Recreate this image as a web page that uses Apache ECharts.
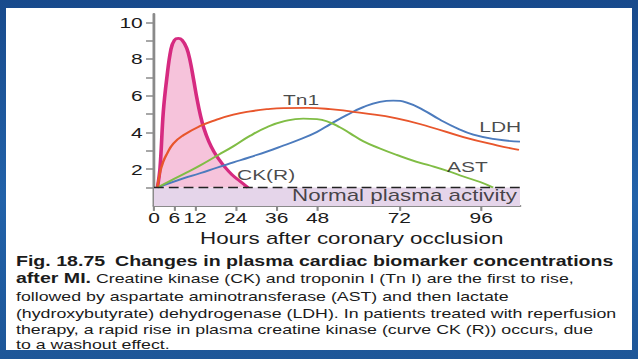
<!DOCTYPE html>
<html>
<head>
<meta charset="utf-8">
<script src="https://cdn.jsdelivr.net/npm/echarts@6/dist/echarts.min.js"></script>
<style>
html,body{margin:0;padding:0;width:638px;height:359px;overflow:hidden;}
body{background:linear-gradient(180deg,#184a8c 0%,#2262a9 55%,#1d5698 100%);position:relative;}
#frame{position:absolute;left:6px;top:8px;width:626px;height:342px;background:#ffffff;overflow:hidden;}
#chart{position:absolute;left:-6px;top:-8px;width:456px;height:359px;transform:scaleX(1.39912);transform-origin:0 0;}
</style>
</head>
<body>
<div id="frame"><div id="chart"></div></div>
<script>
// Hours after occlusion (x) and plasma activity (y, multiples of normal)
const xTickHours = [0, 6, 12, 24, 36, 48, 72, 96];
const yTickValues = [1, 2, 3, 4, 5, 6, 7, 8, 9, 10];
const yLabelValues = [2, 4, 6, 8, 10];

const ckR = [[1,1],[1.76,2.05],[2.73,5.12],[3.73,6.92],[4.99,8.55],[6.02,9.04],[7.13,9.13],[8.22,9.04],[9.6,8.6],[10.6,7.9],[11.6,6.9],[12.6,5.85],[13.6,4.95],[14.6,4.25],[16.1,3.5],[17.6,2.95],[19.0,2.55],[20.8,2.12],[22.9,1.7],[25.2,1.35],[27.6,1.0]];
const tn1 = [[1,1],[1.8,1.85],[2.7,2.4],[3.7,2.8],[5.7,3.4],[8.6,3.85],[13.5,4.35],[18.4,4.7],[23.3,4.97],[28.2,5.15],[33.1,5.27],[38.0,5.33],[45.0,5.34],[51.7,5.27],[61.4,5.05],[71.2,4.77],[81.0,4.3],[90.8,3.75],[100.6,3.3],[107.1,3.05]];
const ast = [[1,1],[4.7,1.36],[9.6,1.82],[13.5,2.2],[18.9,2.78],[23.3,3.25],[28.2,3.82],[33.1,4.28],[38.0,4.6],[43.8,4.76],[47.8,4.73],[51.7,4.54],[54.6,4.28],[57.5,3.96],[61.4,3.52],[66.3,3.13],[71.2,2.78],[77.1,2.4],[81.0,2.2],[86.9,1.86],[90.8,1.6],[95.7,1.3],[99.5,1.0]];
const ldh = [[1,1],[8.6,1.5],[13.5,1.78],[18.4,2.08],[23.3,2.37],[28.2,2.66],[33.1,2.96],[38.0,3.29],[42.9,3.63],[47.8,4.03],[51.7,4.45],[56.6,4.95],[61.4,5.38],[66.3,5.67],[70.2,5.74],[74.2,5.63],[79.0,5.23],[83.9,4.7],[88.9,4.23],[93.7,3.88],[100.6,3.62],[107.4,3.5]];

const curveLabels = [[43.15,5.77,'Tn1'],[101.6,4.32,'LDH'],[92.0,2.14,'AST'],[32.9,1.68,'CK(R)']];
const normalLabel = [[106.5,0.57,'Normal plasma activity']];
const normalLevel = 1;

const captionLines = [
  '{f|Fig. 18.75}  {b|Changes in plasma cardiac biomarker concentrations}',
  '{b|after MI.} Creatine kinase (CK) and troponin I (Tn I) are the first to rise,',
  'followed by aspartate aminotransferase (AST) and then lactate',
  '(hydroxybutyrate) dehydrogenase (LDH). In patients treated with reperfusion',
  'therapy, a rapid rise in plasma creatine kinase (curve CK (R)) occurs, due',
  'to a washout effect.'
];
const captionY = [261.5, 278.8, 296, 313, 329.5, 344];

const FONT = "'Liberation Sans', Arial, Helvetica, sans-serif";
const chart = echarts.init(document.getElementById('chart'), null, {renderer: 'svg'});

const axisGray = '#8a8a8a';
const txt = '#1b1b1b';

const graphics = captionLines.map((t, i) => ({
  type: 'text',
  x: 11.4,
  y: captionY[i],
  z: 100,
  style: {
    text: t,
    fontFamily: FONT,
    fontSize: 12.7,
    fill: txt,
    verticalAlign: 'middle',
    rich: {
      f: {fontFamily: FONT, fontSize: 14, fontWeight: 'bold', color: '#1f5aa6'},
      b: {fontFamily: FONT, fontSize: 14, fontWeight: 'bold', color: txt}
    }
  }
}));

chart.setOption({
  animation: false,
  backgroundColor: 'transparent',
  grid: {left: 110.07, right: 84.34, top: 14.1, bottom: 153.1, containLabel: false},
  xAxis: {
    type: 'value', min: 0, max: 107.4,
    name: 'Hours after coronary occlusion',
    nameLocation: 'middle', nameGap: 24,
    nameTextStyle: {fontFamily: FONT, fontSize: 16, color: txt, padding: [0, 0, 0, 21]},
    axisLine: {show: true, lineStyle: {color: axisGray, width: 2}},
    axisTick: {show: true, length: 5, lineStyle: {color: axisGray, width: 1.5}, customValues: xTickHours},
    axisLabel: {fontFamily: FONT, fontSize: 15, color: txt, margin: 4, customValues: xTickHours},
    splitLine: {show: false}
  },
  yAxis: {
    type: 'value', min: 0, max: 10.45,
    axisLine: {show: true, lineStyle: {color: axisGray, width: 2}},
    axisTick: {show: true, length: 5.7, lineStyle: {color: axisGray, width: 1.5}, customValues: yTickValues},
    axisLabel: {fontFamily: FONT, fontSize: 15, color: txt, margin: 8, customValues: yLabelValues},
    splitLine: {show: false}
  },
  graphic: graphics,
  series: [
    {
      name: 'band', type: 'line', data: [], z: 1, silent: true,
      markArea: {
        silent: true,
        itemStyle: {color: '#e5d5ea'},
        data: [[{yAxis: 0, xAxis: 'min'}, {yAxis: normalLevel, xAxis: 'max'}]]
      },
      markLine: {
        silent: true, symbol: 'none',
        label: {show: false},
        lineStyle: {color: '#222', width: 1.4, type: [7, 3.6]},
        data: [{yAxis: normalLevel}]
      }
    },
    {
      name: 'CK(R)', type: 'line', data: ckR, smooth: 0.4, showSymbol: false, z: 2,
      lineStyle: {color: '#d62a80', width: 2.6},
      itemStyle: {color: '#d62a80'},
      areaStyle: {color: '#f6c3db', opacity: 1, origin: normalLevel}
    },
    {
      name: 'LDH', type: 'line', data: ldh, smooth: 0.5, showSymbol: false, z: 3,
      lineStyle: {color: '#4c7bbd', width: 1.8}, itemStyle: {color: '#4c7bbd'}
    },
    {
      name: 'AST', type: 'line', data: ast, smooth: 0.5, showSymbol: false, z: 3,
      lineStyle: {color: '#80bd45', width: 1.8}, itemStyle: {color: '#80bd45'}
    },
    {
      name: 'Tn1', type: 'line', data: tn1, smooth: 0.5, showSymbol: false, z: 3,
      lineStyle: {color: '#e8562c', width: 1.8}, itemStyle: {color: '#e8562c'}
    },
    {
      name: 'labels', type: 'scatter', data: curveLabels, symbolSize: 0, z: 5, silent: true,
      label: {show: true, position: 'inside', formatter: p => p.value[2],
        fontFamily: FONT, fontSize: 15, color: txt}
    },
    {
      name: 'normal', type: 'scatter', data: normalLabel, symbolSize: 0, z: 5, silent: true,
      label: {show: true, position: 'left', distance: 0, formatter: p => p.value[2],
        fontFamily: FONT, fontSize: 16, color: txt}
    }
  ]
});
</script>
</body>
</html>
